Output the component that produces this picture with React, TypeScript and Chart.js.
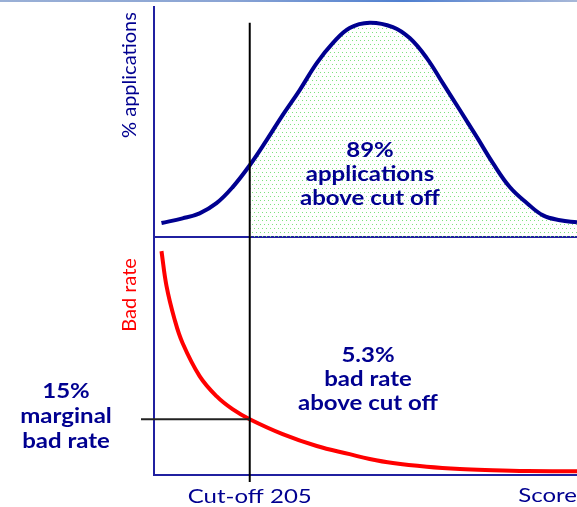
import { useEffect, useRef } from 'react';
import { Chart, registerables } from 'chart.js';

Chart.register(...registerables);

// ---- data ----
const SCORE_MIN = 150;
const SCORE_MAX = 393;
const CUTOFF = 205;
const MARGINAL_BAD_RATE = 15;

const APP_SCORES = [154.3, 166.4, 176.2, 185.9, 195.1, 205, 214.7, 223.9, 233.7, 243.5, 252.7, 262.4, 273.9, 287.2, 296.9, 306.7, 315.9, 325.7, 335.5, 344.7, 354.5, 364.3, 373.5, 383.3, 393];
const APP_PCT = [6.1, 8.1, 10.3, 14.7, 21.6, 31.2, 42.1, 53.0, 63.9, 75.6, 84.3, 90.9, 93.2, 91.3, 86.5, 77.8, 66.9, 55.2, 43.4, 32.1, 21.6, 14.7, 9.4, 7.3, 6.4];

const BAD_SCORES = [154.3, 157.2, 161.8, 166.4, 176.2, 185.9, 195.1, 205, 223.9, 243.5, 262.4, 273.9, 287.2, 306.7, 325.7, 344.7, 364.3, 393];
const BAD_RATE = [60.2, 50.8, 41.9, 35.5, 26.6, 21.2, 17.7, 15.0, 11.0, 7.8, 5.6, 4.3, 3.2, 2.2, 1.6, 1.3, 1.1, 1.0];

const Y_TOP_TITLE = '% applications';
const Y_BOT_TITLE = 'Bad rate';
const X_LABELS = ['Cut-off 205', 'Score'];
const NOTE_APPS = ['89%', 'applications', 'above cut off'];
const NOTE_BAD = ['5.3%', 'bad rate', 'above cut off'];
const NOTE_MARGINAL = ['15%', 'marginal', 'bad rate'];

const NAVY = '#000090';
const AXIS = '#2020a0';
const FONT = 'Lato';
const STRETCH = 1.2;

export default function App() {
  const ref = useRef<HTMLCanvasElement>(null);

  useEffect(() => {
    const canvas = ref.current!;
    const ctx0 = canvas.getContext('2d')!;
    const pc = document.createElement('canvas');
    pc.width = 8;
    pc.height = 8;
    const pctx = pc.getContext('2d')!;
    pctx.fillStyle = '#7ee27e';
    [[0, 0], [4, 0], [2, 4], [6, 4]].forEach(([x, y]) => pctx.fillRect(x, y, 1, 1));
    const pattern = ctx0.createPattern(pc, 'repeat');

    const appPts = APP_SCORES.map((x, i) => ({ x, y: APP_PCT[i] }));
    const badPts = BAD_SCORES.map((x, i) => ({ x, y: BAD_RATE[i] }));

    const annot = {
      id: 'annot',
      afterDatasetsDraw(chart: any) {
        const { ctx, chartArea, scales } = chart;
        const xC = scales.x.getPixelForValue(CUTOFF);
        const yPeak = scales.yTop.getPixelForValue(Math.max(...APP_PCT));
        const yM = scales.yBot.getPixelForValue(MARGINAL_BAD_RATE);
        ctx.save();
        ctx.lineWidth = 2;
        ctx.strokeStyle = '#000';
        ctx.beginPath();
        ctx.moveTo(xC, yPeak);
        ctx.lineTo(xC, chartArea.bottom + 7);
        ctx.stroke();
        ctx.strokeStyle = '#222';
        ctx.beginPath();
        ctx.moveTo(chartArea.left - 13, yM);
        ctx.lineTo(xC, yM);
        ctx.stroke();
        ctx.restore();
      },
      afterDraw(chart: any) {
        const { ctx, chartArea, scales } = chart;
        const xC = scales.x.getPixelForValue(CUTOFF);
        const put = (t: string, x: number, y: number) => {
          ctx.save();
          ctx.translate(x, y);
          ctx.scale(STRETCH, 1);
          ctx.fillText(t, 0, 0);
          ctx.restore();
        };
        ctx.save();
        // axis titles (vertical)
        ctx.textAlign = 'center';
        ctx.textBaseline = 'middle';
        ctx.font = `20px ${FONT}`;
        ctx.save();
        ctx.translate(130, 75);
        ctx.rotate(-Math.PI / 2);
        ctx.fillStyle = NAVY;
        ctx.fillText(Y_TOP_TITLE, 0, 0);
        ctx.restore();
        ctx.save();
        ctx.translate(130, 295);
        ctx.rotate(-Math.PI / 2);
        ctx.fillStyle = '#ff0000';
        ctx.fillText(Y_BOT_TITLE, 0, 0);
        ctx.restore();
        // x labels
        ctx.textBaseline = 'alphabetic';
        ctx.fillStyle = NAVY;
        ctx.fillText;
        put(X_LABELS[0], xC, 503);
        ctx.textAlign = 'right';
        put(X_LABELS[1], chartArea.right, 502);
        // notes
        ctx.textAlign = 'center';
        ctx.font = `bold 20px ${FONT}`;
        const block = (lines: string[], x: number, y0: number, dy: number) =>
          lines.forEach((t, i) => put(t, x, y0 + i * dy));
        block(NOTE_APPS, 370, 157, 24.2);
        block(NOTE_BAD, 368, 362, 24.2);
        block(NOTE_MARGINAL, 66, 398, 24.8);
        ctx.restore();
      },
    };

    const common = { pointRadius: 0, tension: 0.4 };

    const chart = new Chart(canvas, {
      type: 'line',
      data: {
        datasets: [
          {
            label: 'applications',
            data: appPts,
            yAxisID: 'yTop',
            borderColor: NAVY,
            borderWidth: 4,
            fill: false,
            order: 0,
            ...common,
          },
          {
            label: 'above cut off',
            data: appPts.filter((p) => p.x >= CUTOFF),
            yAxisID: 'yTop',
            borderWidth: 0,
            borderColor: 'rgba(0,0,0,0)',
            backgroundColor: pattern as any,
            fill: 'origin',
            order: 3,
            ...common,
          },
          {
            label: 'bad rate',
            data: badPts,
            yAxisID: 'yBot',
            borderColor: '#ff0000',
            borderWidth: 4,
            fill: false,
            order: 0,
            ...common,
          },
        ],
      },
      options: {
        animation: false,
        responsive: false,
        maintainAspectRatio: false,
        events: [],
        layout: { padding: { left: 154, top: 7, right: 0, bottom: 32 } },
        plugins: { legend: { display: false }, tooltip: { enabled: false } },
        scales: {
          x: {
            type: 'linear',
            min: SCORE_MIN,
            max: SCORE_MAX,
            ticks: { display: false },
            grid: { display: false, drawTicks: false },
            border: { color: AXIS, width: 2 },
          },
          yBot: {
            type: 'linear',
            position: 'left',
            stack: 'panels',
            stackWeight: 238,
            min: 0,
            max: 64,
            ticks: { display: false },
            grid: { display: false, drawTicks: false },
            border: { color: AXIS, width: 2 },
          },
          yTop: {
            type: 'linear',
            position: 'left',
            stack: 'panels',
            stackWeight: 230,
            min: 0,
            max: 100,
            ticks: { display: false },
            grid: {
              drawTicks: false,
              lineWidth: 2,
              color: (c: any) => (c.tick && c.tick.value === 0 ? AXIS : 'rgba(0,0,0,0)'),
            },
            border: { color: AXIS, width: 2 },
          },
        },
      } as any,
      plugins: [annot],
    });
    return () => chart.destroy();
  }, []);

  return (
    <div style={{ position: 'fixed', left: 0, top: 0, width: 577, height: 507, background: '#fff' }}>
      <div
        style={{
          position: 'absolute',
          left: 0,
          top: 0,
          width: 577,
          height: 2,
          background: 'linear-gradient(to right, #9ab0d6 0%, #8aa4d4 40%, #4f7fd0 70%, #a8b8d8 100%)',
        }}
      />
      <canvas ref={ref} width={577} height={507} style={{ position: 'absolute', left: 0, top: 0 }} />
    </div>
  );
}
